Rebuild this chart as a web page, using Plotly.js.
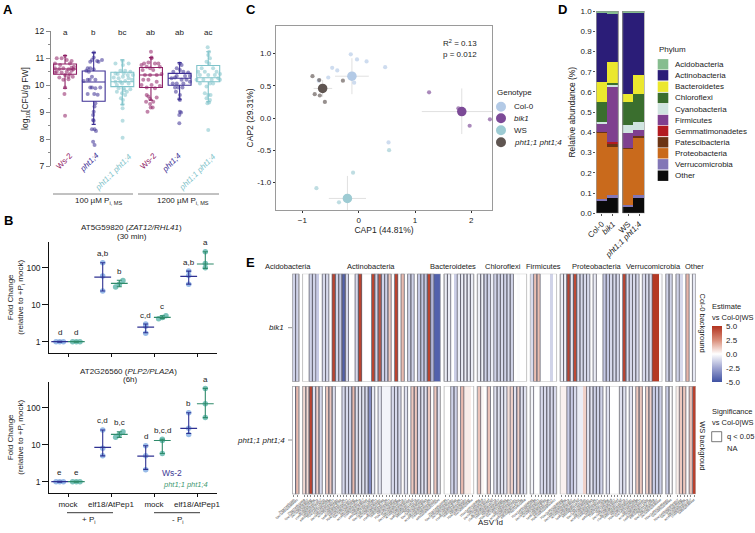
<!DOCTYPE html>
<html>
<head>
<meta charset="utf-8">
<script src="https://cdn.plot.ly/plotly-3.0.1.min.js"></script>
<style>html,body{margin:0;padding:0;background:#fff}#chart{opacity:.999}</style>
</head>
<body>
<div id="chart" style="width:755px;height:533px"></div>
<script>
// ---- panel A: CFU boxes (box stats + jittered replicates)
const boxColors = ['#8f2166', '#3d2f94', '#7fc3ca', '#8f2166', '#3d2f94', '#7fc3ca'];
const boxQ1 = [10.40, 9.40, 9.94, 9.91, 9.99, 10.12];
const boxMedian = [10.59, 10.11, 10.12, 10.37, 10.25, 10.27];
const boxQ3 = [10.78, 10.52, 10.47, 10.65, 10.43, 10.72];
const boxLow = [9.88, 8.54, 9.27, 9.44, 9.47, 9.38];
const boxHigh = [11.09, 11.2, 10.93, 11.02, 10.83, 11.23];
const boxLetters = ['a', 'b', 'bc', 'ab', 'ab', 'ac'];

const ws100Jit = [-.29,-.12,.06,.23,0,.17,-.35,-.17,.31,-.35,-.2,-.06,.12,.29,-.29,-.12,.06,.23,-.35,0,.17,-.2,.12,.27,-.06,.12,0,-.02,0,.23];
const ws100Val = [10.99,10.99,10.93,10.89,11.07,10.80,10.80,10.74,10.68,10.62,10.59,10.62,10.58,10.58,10.49,10.46,10.49,10.53,10.46,10.37,10.41,10.28,10.31,10.31,10.19,10.21,9.91,9.67,8.86,10.64];
const p14100Jit = [.01,0,-.06,.12,.29,-.12,.17,-.21,-.12,0,-.26,-.17,-.06,-.21,-.35,.06,-.12,.06,.23,-.06,-.21,.02,.14,.06,.03,0,-.02,-.02,0,-.06,.03,.08,-.02,.03,-.14];
const p14100Val = [11.2,11.02,10.93,10.89,10.93,10.86,10.86,10.62,10.62,10.58,10.53,10.49,10.31,10.19,10.15,10.19,9.91,9.88,9.91,9.91,9.67,9.67,9.64,9.32,9.2,9.01,8.89,8.7,8.68,8.36,8.36,8.3,7.9,7.78,10.19];
const p11100Jit = [.01,-.24,.02,.22,-.07,.1,.28,-.24,-.16,.05,.19,.37,-.3,-.13,.02,.22,-.24,-.07,.1,.34,-.19,-.01,.22,-.13,.05,.28,-.19,-.01,.1,-.05,.02,.01,.01,.01,.01,.07,.16];
const p11100Val = [10.89,10.8,10.74,10.8,10.53,10.53,10.49,10.43,10.41,10.43,10.37,10.37,10.28,10.25,10.31,10.25,10.12,10.12,10.15,10.19,10,10.06,10.06,9.88,9.88,9.84,9.75,9.69,9.63,9.51,9.44,9.3,9.14,8.68,8.05,9.81,9.75];
const ws1200Jit = [0,.02,-.24,-.09,.14,.26,-.33,-.15,.31,-.03,-.29,.08,-.21,-.03,.2,.37,-.27,-.09,.2,-.33,.02,.31,-.15,.14,-.15,-.09,-.03,.2,-.17,.08,-.01,.06,-.12,-.03,.02];
const ws1200Val = [11.23,11.02,10.80,10.83,10.80,10.80,10.74,10.68,10.68,10.62,10.56,10.56,10.37,10.37,10.37,10.41,10.19,10.19,10.12,10.0,10.0,9.96,9.91,9.88,9.63,9.57,9.48,9.54,9.38,9.38,9.17,9.17,9.01,9.30,10.99];
const p141200Jit = [0,.07,-.1,.01,-.22,.13,.3,-.1,.19,.36,-.28,-.16,.07,.24,.36,-.24,-.1,.13,-.05,.1,-.16,.01,-.01,.01,.05,-.01,-.01,.01,-.13];
const p141200Val = [10.8,10.74,10.62,10.56,10.49,10.49,10.46,10.33,10.33,10.33,10.25,10.28,10.19,10.19,10.12,10.06,10.06,10.06,9.91,9.91,9.91,9.63,9.48,9.01,8.98,8.89,8.58,9.44,9.75];
const p111200Jit = [-.02,.03,0,.06,-.06,.03,-.23,.17,-.35,-.12,.29,-.29,0,.23,.41,-.41,-.17,.12,.35,-.29,.06,.17,.41,-.06,0,-.06,.06,-.03,.03,0,-.12,.08];
const p111200Val = [11.40,11.23,11.11,10.99,10.86,10.8,10.62,10.62,10.49,10.49,10.49,10.37,10.37,10.37,10.41,10.19,10.19,10.19,10.25,10.06,10.06,10.06,10.19,9.94,9.63,9.51,9.44,9.32,9.35,8.33,9.69,9.63];
const jitterSets = [ws100Jit, p14100Jit, p11100Jit, ws1200Jit, p141200Jit, p111200Jit];
const valueSets = [ws100Val, p14100Val, p11100Val, ws1200Val, p141200Val, p111200Val];

// ---- panel B: qPCR fold change, [Ws-2, pht1;1 pht1;4] per treatment
const foldTicks = ['mock', 'elf18/AtPep1', 'mock', 'elf18/AtPep1'];
const zatWsMean = [1, 56, 2.49, 58];
const zatWsLow = [0.97, 23.4, 1.75, 36];
const zatWsHigh = [1.03, 136, 3.0, 81];
const zatWsReps = [[1, 1, 1], [23.4, 60, 136], [1.7, 2.6, 3.0], [36, 62, 81]];
const zatPhtMean = [1, 37.7, 4.54, 126];
const zatPhtLow = [0.97, 30.6, 4.2, 96];
const zatPhtHigh = [1.03, 46, 5.05, 270];
const zatPhtReps = [[1, 1, 1], [30, 36, 45], [4.2, 4.5, 5.0], [100, 130, 270]];
const zatLetters = ['d', 'd', 'a,b', 'b', 'c,d', 'c', 'a,b', 'a'];
const plpWsMean = [1, 8.5, 4.9, 27.6];
const plpWsLow = [0.97, 5.0, 2.15, 20];
const plpWsHigh = [1.03, 25, 9.4, 73];
const plpWsReps = [[1, 1, 1], [5, 8, 25], [2.1, 5, 9.4], [19, 28, 73]];
const plpPhtMean = [1, 19, 13, 128];
const plpPhtLow = [0.97, 15.8, 5.8, 54];
const plpPhtHigh = [1.03, 22.5, 14, 333];
const plpPhtReps = [[1, 1, 1], [15.8, 19, 22.5], [5.8, 13, 14], [54, 128, 333]];
const plpLetters = ['e', 'e', 'c,d', 'b,c', 'd', 'b,c,d', 'b', 'a'];
const repSpread = [-0.085, 0, 0.085];

// ---- panel C: CAP ordination
const genotypes = ['Col-0', '<i>bik1</i>', 'WS', '<i>pht1;1 pht1;4</i>'];
const genoColors = ['#b3cae6', '#7c4a97', '#9dcbd3', '#5f5551'];
const capX = [[-.14,-.03,.14,.47,-.47,-.38,-.54,-.08,-.71,.53], [1.25,1.77,1.97,2.33], [-.10,-.75,-.35,.54], [-.82,-.70,-.28,-.78,-.69,-.60]];
const capY = [[.99,.91,.88,.79,.78,.74,.63,.55,.58,-.38], [.40,.15,-.12,-.02], [-.85,-1.09,-1.31,-.50], [.65,.59,.58,.37,.35,.25]];
const centroidX = [-.12, 1.83, -.2, -.64];
const centroidY = [.65, .10, -1.25, .46];
const centroidXMinus = [.30, .71, .33, .16];
const centroidXPlus = [.30, .72, .33, .17];
const centroidYMinus = [.28, .35, .35, .13];
const centroidYPlus = [.28, .36, .35, .13];

// ---- panel D: phylum composition, bottom of the stack first
const stackSamples = ['Col-0', '<i>bik1</i>', 'WS', '<i>pht1;1 pht1;4</i>'];
const phyla = ['Acidobacteria', 'Actinobacteria', 'Bacteroidetes', 'Chloroflexi', 'Cyanobacteria', 'Firmicutes', 'Gemmatimonadetes', 'Patescibacteria', 'Proteobacteria', 'Verrucomicrobia', 'Other'];
const phylumColors = ['#86bd8f', '#2b1d78', '#ebe72e', '#3a6e2e', '#d0e4e0', '#7f408f', '#b31b20', '#6b3414', '#c96a1c', '#8276b6', '#0a0a0a'];
const otherShare = [0.06, 0.075, 0.03, 0.075];
const verrucoShare = [0.01, 0.015, 0.013, 0.015];
const proteoShare = [0.33, 0.24, 0.277, 0.285];
const patesciShare = [0.003, 0.015, 0.005, 0.005];
const gemmaShare = [0, 0.007, 0, 0];
const firmiShare = [0.042, 0.275, 0.07, 0.03];
const cyanoShare = [0.008, 0.008, 0.042, 0.04];
const chloroShare = [0.098, 0.01, 0.113, 0.14];
const bacteroShare = [0.097, 0.105, 0.04, 0.095];
const actinoShare = [0.342, 0.235, 0.40, 0.31];
const acidoShare = [0.01, 0.015, 0.01, 0.005];
const shareByPhylum = [acidoShare, actinoShare, bacteroShare, chloroShare, cyanoShare, firmiShare, gemmaShare, patesciShare, proteoShare, verrucoShare, otherShare];

// ---- panel E: per ASV estimates and significance, [bik1 row, pht1 row]
const facetNames = ['Acidobacteria', 'Actinobacteria', 'Bacteroidetes', 'Chloroflexi', 'Firmicutes', 'Proteobacteria', 'Verrucomicrobia', 'Other'];
const estTop = [
  [-1.2,-1.2],
  [0,0,-1.2,-1.2,-1.4,0,-1,-1,0,4.5,-1.2,-1.5,-4.5,-1,0,0,-1,4.5,0,0,0,4.5,-1.2,4,-1.2,-1.2,1.2,0,4.5,0,1.5,0,-1.2,-1.2,0,-1.5,-1.5,-1.5,4.5,-2,-4.5,-4.5],
  [-.5,-.5,0,-1.3,-.5,-.5,-.5,-.5,-.5],
  [-.4,-.4,-1.2,-1.2,-.5,-1.2,-1.2,-1,-1.2,-1,-1.2,0,-.1,0,0],
  [-1,1.4,1.4,0,0,0,-1.2,0],
  [-.4,-.4,4.5,-.6,4.3,-1,-1,-1,-1,0,-.5,0,0,-1.5,-1.5,-1,-1,-1,0,4.5,-1,-1,-1,-1,0,-1,-1,-1,4.8,4.8,-.1],
  [-1.2,-1.2],
  [-1.2,-1,0,1.6,0,-.6]
];
const sigTop = [
  [1,1],
  [0,0,1,1,0,0,1,1,0,1,1,1,1,1,0,0,1,1,0,0,0,1,1,1,1,1,1,0,1,0,1,0,1,1,0,1,1,1,1,1,0,0],
  [1,1,0,0,1,1,1,1,1],
  [1,1,1,1,0,1,1,1,1,1,1,0,0,0,0],
  [0,1,1,0,0,0,0,0],
  [1,1,1,1,1,1,1,1,1,0,1,0,0,1,1,1,1,1,0,1,1,1,1,1,0,1,1,1,0,0,0],
  [1,1],
  [1,0,0,1,0,1]
];
const estBottom = [
  [0,1.5],
  [.8,.8,4.5,-.8,1,-1,0,1.2,1.2,-.8,0,0,-1,-1,-1.2,1.5,-.8,-.8,-.8,-1,-3.2,-.6,0,-.6,-.3,-.3,-.3,-1,-1,-1,.1,-.8,0,1.2,1.2,-1,-.8,-.8,1.2,0,1.2,-.8],
  [0,0,-1.2,-1.2,.2,1.5,.4,.4,0],
  [1.3,.2,0,1.3,0,-.8,-.8,-.8,-.6,.7,1,-.8,1,-.8,-.8],
  [-.3,0,0,-1,-1,-1,-1,-1],
  [.3,.3,-1.4,-1.4,-1,-.5,-.5,1,-.7,-.7,-1.2,-1.2,-1.2,0,-.8,0,0,0,-.8,-.8,0,-.7,.1,1.2,1.2,0,1,1,-1.3,-1.3,-1.3],
  [-1.3,0],
  [.4,1.2,1.2,.1,1.4,4.6]
];
const sigBottom = [
  [1,1],
  [1,1,1,1,1,1,0,1,1,1,0,0,1,1,1,1,1,1,1,1,1,1,0,1,0,0,0,1,1,1,0,1,0,1,1,1,1,1,1,0,1,1],
  [0,0,1,1,0,1,0,0,0],
  [1,0,0,1,0,1,1,1,1,0,1,1,1,1,1],
  [1,0,0,1,1,1,1,1],
  [0,0,1,1,1,0,0,0,1,1,1,1,1,0,1,0,0,0,1,1,0,1,0,1,1,0,1,1,1,1,1],
  [1,1],
  [0,1,1,0,1,0]
];

// page pixels to paper fractions, margins are zero
const W = 755, H = 533;
const fx = (p) => p / W;
const fy = (p) => 1 - p / H;
const FONT = 'Liberation Sans, Arial, sans-serif';
const INK = '#222222';

const traces = [];
const annotations = [];
const shapes = [];

function label(text, x, y, opts) {
  annotations.push(Object.assign({
    text, x: fx(x), y: fy(y), xref: 'paper', yref: 'paper', showarrow: false,
    xanchor: 'center', yanchor: 'middle', font: { family: FONT, size: 8, color: INK }
  }, opts || {}));
}

function line(x0, y0, x1, y1, color, width) {
  shapes.push({ type: 'line', xref: 'paper', yref: 'paper', x0: fx(x0), x1: fx(x1), y0: fy(y0), y1: fy(y1), line: { color: color || '#555', width: width || 0.8 } });
}

// panel labels
[['A', 8, 9], ['B', 8, 220], ['C', 251, 9], ['D', 562, 9], ['E', 250, 263]].forEach((p) => {
  label(p[0], p[1], p[2], { font: { family: FONT, size: 13, color: '#000' }, text: '<b>' + p[0] + '</b>' });
});

// ---- A
boxColors.forEach((color, i) => {
  traces.push({
    type: 'scatter', mode: 'markers', xaxis: 'x', yaxis: 'y', showlegend: false, hoverinfo: 'skip',
    x: jitterSets[i].map((d) => i + 1 + d), y: valueSets[i],
    marker: { size: 4, color, opacity: 0.55 }
  });
  traces.push({
    type: 'box', xaxis: 'x', yaxis: 'y', showlegend: false, hoverinfo: 'skip',
    x: [i + 1], q1: [boxQ1[i]], median: [boxMedian[i]], q3: [boxQ3[i]], lowerfence: [boxLow[i]], upperfence: [boxHigh[i]],
    width: 0.8, whiskerwidth: 0.18, line: { color, width: 1.1 }, fillcolor: 'rgba(0,0,0,0)', boxpoints: false
  });
  // above the axis range, so the height is set on the page
  annotations.push({
    text: boxLetters[i], x: i + 1, y: fy(26), xref: 'x', yref: 'paper', showarrow: false,
    font: { family: FONT, size: 8, color: INK }
  });
});
const aNames = ['Ws-2', 'pht1;4', 'pht1;1 pht1;4', 'Ws-2', 'pht1;4', 'pht1;1 pht1;4'];
const aNameX = [64, 89.5, 113, 148, 172, 197];
const aNameY = [161.5, 163, 172, 161.5, 163, 172];
aNames.forEach((name, i) => {
  const italic = name !== 'Ws-2';
  label(italic ? '<i>' + name + '</i>' : name, aNameX[i], aNameY[i], { textangle: -45, font: { family: FONT, size: 8, color: boxColors[i] } });
});
line(53, 194, 133, 194, '#666', 0.8);
line(138, 194, 219, 194, '#666', 0.8);
label('100 µM P<sub>i, MS</sub>', 99, 200.5, { font: { family: FONT, size: 8, color: INK } });
label('1200 µM P<sub>i, MS</sub>', 183, 200.5, { font: { family: FONT, size: 8, color: INK } });

// ---- B
function foldPanel(xa, ya, wsMean, wsLow, wsHigh, wsReps, phtMean, phtLow, phtHigh, phtReps, letters) {
  const offset = 8.3 / 43;
  const groups = [
    { dx: -offset, mean: wsMean, low: wsLow, high: wsHigh, reps: wsReps, dot: '#8db4e6', ink: '#2e3192' },
    { dx: offset, mean: phtMean, low: phtLow, high: phtHigh, reps: phtReps, dot: '#6dbdb4', ink: '#2f8a6a' }
  ];
  groups.forEach((g, k) => {
    const xs = [1, 2, 3, 4].map((v) => v + g.dx);
    traces.push({
      type: 'scatter', mode: 'markers', xaxis: xa, yaxis: ya, showlegend: false, hoverinfo: 'skip',
      // tight replicates sit side by side, spread out ones stay on the centre line
      x: g.reps.flatMap((r, i) => r.map((v, j) => xs[i] + (r[2] / r[0] < 1.7 ? repSpread[j] : 0))), y: g.reps.flat(),
      marker: { size: 5.5, color: g.dot, opacity: 0.9 }
    });
    traces.push({
      type: 'scatter', mode: 'markers', xaxis: xa, yaxis: ya, showlegend: false, hoverinfo: 'skip',
      x: xs, y: g.mean,
      error_y: { type: 'data', symmetric: false, array: g.high.map((h, i) => h - g.mean[i]), arrayminus: g.low.map((l, i) => g.mean[i] - l), color: g.ink, thickness: 1.1, width: 2.5 },
      marker: { symbol: 'line-ew', size: 12, line: { width: 1.2, color: g.ink } }
    });
    xs.forEach((x, i) => {
      annotations.push({
        text: letters[i * 2 + k], x, y: Math.log10(g.high[i]), xref: xa, yref: ya, showarrow: false,
        yshift: 9, font: { family: FONT, size: 8, color: INK }
      });
    });
  });
}
foldPanel('x2', 'y2', zatWsMean, zatWsLow, zatWsHigh, zatWsReps, zatPhtMean, zatPhtLow, zatPhtHigh, zatPhtReps, zatLetters);
foldPanel('x3', 'y3', plpWsMean, plpWsLow, plpWsHigh, plpWsReps, plpPhtMean, plpPhtLow, plpPhtHigh, plpPhtReps, plpLetters);
label('AT5G59820 (<i>ZAT12/RHL41</i>)', 131.7, 227, { font: { family: FONT, size: 8, color: INK } });
label('(30 min)', 132, 236.5, { font: { family: FONT, size: 8, color: INK } });
label('AT2G26560 (<i>PLP2/PLA2A</i>)', 128, 371, { font: { family: FONT, size: 8, color: INK } });
label('(6h)', 130, 379.5, { font: { family: FONT, size: 8, color: INK } });
label('Ws-2', 172, 473, { font: { family: FONT, size: 8.5, color: '#3d3a96' } });
label('<i>pht1;1 pht1;4</i>', 185, 484.7, { font: { family: FONT, size: 7.5, color: '#3f9a72' } });
line(67, 512.7, 113, 512.7, '#222', 0.9);
line(154, 512.7, 200, 512.7, '#222', 0.9);
label('+ P<sub>i</sub>', 88, 520, { font: { family: FONT, size: 8, color: INK } });
label('- P<sub>i</sub>', 177, 520, { font: { family: FONT, size: 8, color: INK } });

// ---- C
genotypes.forEach((g, i) => {
  traces.push({
    type: 'scatter', mode: 'markers', xaxis: 'x4', yaxis: 'y4', showlegend: false, hoverinfo: 'skip',
    x: [centroidX[i]], y: [centroidY[i]],
    error_x: { type: 'data', symmetric: false, array: [centroidXPlus[i]], arrayminus: [centroidXMinus[i]], color: '#e0e0e0', thickness: 1, width: 0 },
    error_y: { type: 'data', symmetric: false, array: [centroidYPlus[i]], arrayminus: [centroidYMinus[i]], color: '#e0e0e0', thickness: 1, width: 0 },
    marker: { size: 9.5, color: genoColors[i] }
  });
  traces.push({
    type: 'scatter', mode: 'markers', xaxis: 'x4', yaxis: 'y4', showlegend: false, hoverinfo: 'skip',
    x: capX[i], y: capY[i], marker: { size: 4.2, color: genoColors[i], opacity: 0.65 }
  });
  // legend entry
  const rowY = [106.7, 118.3, 130.3, 142.3][i];
  shapes.push({ type: 'circle', xref: 'paper', yref: 'paper', x0: fx(496), x1: fx(506), y0: fy(rowY + 5), y1: fy(rowY - 5), fillcolor: genoColors[i], line: { width: 0 } });
  label(g, 511.5, rowY, { xanchor: 'left', font: { family: FONT, size: 8, color: INK } });
});
label('Genotype', 495, 92.7, { xanchor: 'left', font: { family: FONT, size: 8, color: INK } });
label('R<sup>2</sup> = 0.13', 440.7, 42.7, { xanchor: 'left', font: { family: FONT, size: 8, color: INK } });
label('p = 0.012', 440.7, 54.3, { xanchor: 'left', font: { family: FONT, size: 8, color: INK } });

// ---- D
const stackX = [0.5, 1.5, 2.9, 3.9];
phyla.slice().reverse().forEach((name) => {
  const i = phyla.indexOf(name);
  traces.push({
    type: 'bar', xaxis: 'x5', yaxis: 'y5', name, showlegend: false, hoverinfo: 'skip',
    x: stackX, y: shareByPhylum[i], width: 1, marker: { color: phylumColors[i], line: { width: 0 } }
  });
});
[[0, 2], [2.4, 4.4]].forEach((r) => {
  shapes.push({ type: 'rect', xref: 'x5', yref: 'y5', x0: r[0], x1: r[1], y0: 0, y1: 1, line: { color: '#8a8a8a', width: 1 }, layer: 'above' });
});
label('Phylum', 657.3, 49.3, { xanchor: 'left', font: { family: FONT, size: 8, color: INK } });
const phylumRowY = [64.3, 75.3, 86.7, 98, 109, 120, 131, 142.3, 153.3, 164.3, 175.7];
phyla.forEach((name, i) => {
  const rowY = phylumRowY[i];
  shapes.push({ type: 'rect', xref: 'paper', yref: 'paper', x0: fx(657.7), x1: fx(668.3), y0: fy(rowY + 5.2), y1: fy(rowY - 5.2), fillcolor: phylumColors[i], line: { width: 0 } });
  label(name, 673.3, rowY, { xanchor: 'left', font: { family: FONT, size: 8, color: INK } });
});

// ---- E
const facetGap = 1.13;
const estScale = [[0, '#3f51a3'], [0.25, '#9da3d0'], [0.5, '#ffffff'], [0.75, '#d98c78'], [1, '#b2321e']];
const hashText = '7f3ac1e95d20b86ea4c7190fd3b2e68c51a09d7e4f36c2b8';
const asvTickVals = [], asvTickText = [];
let cursor = 0;
const facetStart = estTop.map((cols, k) => {
  const start = cursor;
  cursor += cols.length + facetGap;
  return start;
});
const totalCols = cursor - facetGap;
const facetLabelX = [288, 370.7, 453, 503, 543, 597, 653, 694];
facetNames.forEach((name, k) => {
  label(name, facetLabelX[k], 266.5, { font: { family: FONT, size: 7.5, color: INK } });
  [[estTop, sigTop, 'x6', 'y6'], [estBottom, sigBottom, 'x7', 'y7']].forEach((row, r) => {
    const z = row[0][k];
    traces.push({
      type: 'heatmap', xaxis: row[2], yaxis: row[3], hoverinfo: 'skip',
      x0: facetStart[k] + 0.5, dx: 1, y: [0], z: [z], zmin: -5, zmax: 5, colorscale: estScale,
      showscale: k === 0 && r === 0,
      colorbar: { x: fx(711.7), xanchor: 'left', y: fy(353.8), yanchor: 'middle', len: 55.7, lenmode: 'pixels', thickness: 10, thicknessmode: 'pixels',
        outlinewidth: 0, borderwidth: 0, xpad: 0, ypad: 0, tickvals: [-5, -2.5, 0, 2.5, 5], ticktext: ['-5.0', '-2.5', '0.0', '2.5', '5.0'],
        ticks: 'outside', ticklen: 3, tickcolor: 'rgba(0,0,0,0)', tickfont: { family: FONT, size: 8, color: INK } }
    });
    row[1][k].forEach((s, c) => {
      if (s) {
        shapes.push({ type: 'rect', xref: row[2], yref: row[3], x0: facetStart[k] + c, x1: facetStart[k] + c + 1, y0: -0.5, y1: 0.5, line: { color: '#62626e', width: 0.8 }, layer: 'above' });
      }
    });
    shapes.push({ type: 'rect', xref: row[2], yref: row[3], x0: facetStart[k], x1: facetStart[k] + z.length, y0: -0.5, y1: 0.5, line: { color: '#b4b4b4', width: 0.8 }, layer: 'above' });
  });
  estTop[k].forEach((_, c) => {
    asvTickVals.push(facetStart[k] + c + 0.5);
    asvTickText.push(hashText.slice(c % 7, (c % 7) + 13 + ((c * 5 + k) % 8)));
  });
});
label('<i>bik1</i>', 286, 327.7, { xanchor: 'right', font: { family: FONT, size: 8, color: INK } });
label('<i>pht1;1 pht1;4</i>', 286.5, 440, { xanchor: 'right', font: { family: FONT, size: 8, color: INK } });
line(288, 327.7, 292, 327.7, '#666', 0.7);
line(288, 440, 292, 440, '#666', 0.7);
label('Col-0 background', 702.5, 323, { textangle: 90, font: { family: FONT, size: 7.5, color: INK } });
label('WS backgroud', 702.5, 445.7, { textangle: 90, font: { family: FONT, size: 7.5, color: INK } });
label('ASV Id', 490, 522, { font: { family: FONT, size: 8, color: INK } });
// this column runs up against the right edge of the page
const edgeFont = { family: FONT, size: 7.5, color: INK };
label('Estimate', 710, 306, { xanchor: 'left', font: edgeFont });
label('vs Col-0|WS', 710, 317, { xanchor: 'left', font: edgeFont });
label('Significance', 710, 411, { xanchor: 'left', font: edgeFont });
label('vs Col-0|WS', 710, 422, { xanchor: 'left', font: edgeFont });
shapes.push({ type: 'rect', xref: 'paper', yref: 'paper', x0: fx(711.7), x1: fx(721.7), y0: fy(441.7), y1: fy(431.7), line: { color: '#555', width: 0.8 } });
label('q < 0.05', 725, 436.7, { xanchor: 'left', font: edgeFont });
label('NA', 725, 448, { xanchor: 'left', font: edgeFont });

// ---- axes
const tickFont = { family: FONT, size: 8.5, color: INK };
const titleFont = { family: FONT, size: 8.5, color: INK };
const foldX = (showLabels) => ({
  range: [0.565, 4.458], showgrid: false, zeroline: false, showline: true, linecolor: '#111', linewidth: 1,
  ticks: 'outside', ticklen: 3, tickcolor: '#111', tickvals: [1, 2, 3, 4], ticktext: foldTicks,
  showticklabels: showLabels, tickfont: { family: FONT, size: 8, color: INK }
});
const foldY = (anchor) => ({
  type: 'log', range: [-0.305, 2.703], showgrid: false, zeroline: false, showline: true, linecolor: '#111', linewidth: 1,
  ticks: 'outside', ticklen: 6, tickcolor: '#111', tickvals: [1, 10, 100], ticktext: ['1', '10', '100'], tickfont: { family: FONT, size: 8.5, color: INK },
  anchor,
  title: { text: 'Fold Change<br>(relative to +P<sub>i</sub> mock)', font: { family: FONT, size: 8, color: INK }, standoff: 1 }
});

const layout = {
  width: W, height: H, autosize: false,
  margin: { l: 0, r: 0, t: 0, b: 0, pad: 0 },
  paper_bgcolor: '#fff', plot_bgcolor: 'rgba(0,0,0,0)',
  showlegend: false, boxmode: 'overlay', barmode: 'stack', bargap: 0,
  font: { family: FONT, size: 8, color: INK },
  annotations, shapes,
  // A
  xaxis: { domain: [fx(51), fx(222)], range: [0.51, 6.48], anchor: 'y', showgrid: false, zeroline: false, showline: false, showticklabels: false, ticks: '' },
  yaxis: { domain: [fy(166), fy(31)], range: [7, 12], anchor: 'x', showgrid: false, zeroline: false, showline: true, linecolor: '#8a8a8a', linewidth: 1,
    ticks: 'outside', ticklen: 4, tickcolor: '#8a8a8a', tickvals: [7, 8, 9, 10, 11, 12], tickfont: tickFont,
    minor: { tickvals: [7.5, 8.5, 9.5, 10.5, 11.5], ticks: 'outside', ticklen: 2, tickcolor: '#8a8a8a' },
    title: { text: 'log<sub>10</sub>[CFU/g FW]', font: titleFont, standoff: 4 } },
  // B
  xaxis2: Object.assign(foldX(false), { domain: [fx(49.3), fx(216.7)], anchor: 'y2' }),
  yaxis2: Object.assign(foldY('x2'), { domain: [fy(353), fy(241.7)] }),
  xaxis3: Object.assign(foldX(true), { domain: [fx(49.3), fx(216.7)], anchor: 'y3' }),
  yaxis3: Object.assign(foldY('x3'), { domain: [fy(493), fy(381.7)] }),
  // C
  xaxis4: { domain: [fx(275.7), fx(492.3)], range: [-1.473, 2.372], anchor: 'y4', showgrid: false, zeroline: false, showline: true, mirror: true, linecolor: '#9a9a9a', linewidth: 1,
    ticks: 'outside', ticklen: 2, tickcolor: '#333', tickvals: [-1, 0, 1, 2], tickfont: { family: FONT, size: 8, color: INK },
    title: { text: 'CAP1 (44.81%)', font: titleFont, standoff: 1 } },
  yaxis4: { domain: [fy(210), fy(25.7)], range: [-1.43, 1.435], anchor: 'x4', showgrid: false, zeroline: false, showline: true, mirror: true, linecolor: '#9a9a9a', linewidth: 1,
    ticks: 'outside', ticklen: 2, tickcolor: '#333', tickvals: [-1, -0.5, 0, 0.5, 1], ticktext: ['-1.0', '-0.5', '0.0', '0.5', '1.0'], tickfont: { family: FONT, size: 8, color: INK },
    title: { text: 'CAP2 (29.31%)', font: titleFont, standoff: 2 } },
  // D
  xaxis5: { domain: [fx(596.3), fx(644.7)], range: [0, 4.4], anchor: 'y5', showgrid: false, zeroline: false, showline: false,
    ticks: 'outside', ticklen: 2, tickcolor: '#555', tickvals: stackX, ticktext: stackSamples, tickangle: -45, tickfont: { family: FONT, size: 8, color: INK } },
  yaxis5: { domain: [fy(213.3), fy(11)], range: [0, 1], anchor: 'x5', showgrid: false, zeroline: false, showline: false,
    ticks: 'outside', ticklen: 2, tickcolor: '#555', tickvals: [0, .1, .2, .3, .4, .5, .6, .7, .8, .9, 1], ticktext: ['0.0', '0.1', '0.2', '0.3', '0.4', '0.5', '0.6', '0.7', '0.8', '0.9', '1.0'], tickfont: { family: FONT, size: 8, color: INK },
    title: { text: 'Relative abundance (%)', font: titleFont, standoff: 3 } },
  // E
  xaxis6: { domain: [fx(292.3), fx(695.7)], range: [0, totalCols], anchor: 'y6', showgrid: false, zeroline: false, showticklabels: false, ticks: '' },
  yaxis6: { domain: [fy(381.7), fy(273.7)], range: [-0.5, 0.5], anchor: 'x6', showgrid: false, zeroline: false, showticklabels: false, ticks: '' },
  xaxis7: { domain: [fx(292.3), fx(695.7)], range: [0, totalCols], anchor: 'y7', showgrid: false, zeroline: false,
    ticks: 'outside', ticklen: 1.5, tickwidth: 0.5, tickcolor: '#888', tickvals: asvTickVals, ticktext: asvTickText, tickangle: -42, tickfont: { family: FONT, size: 3, color: '#222' } },
  yaxis7: { domain: [fy(494.3), fy(386)], range: [-0.5, 0.5], anchor: 'x7', showgrid: false, zeroline: false, showticklabels: false, ticks: '' }
};

Plotly.newPlot('chart', traces, layout, { displayModeBar: false, responsive: false });
</script>
</body>
</html>
